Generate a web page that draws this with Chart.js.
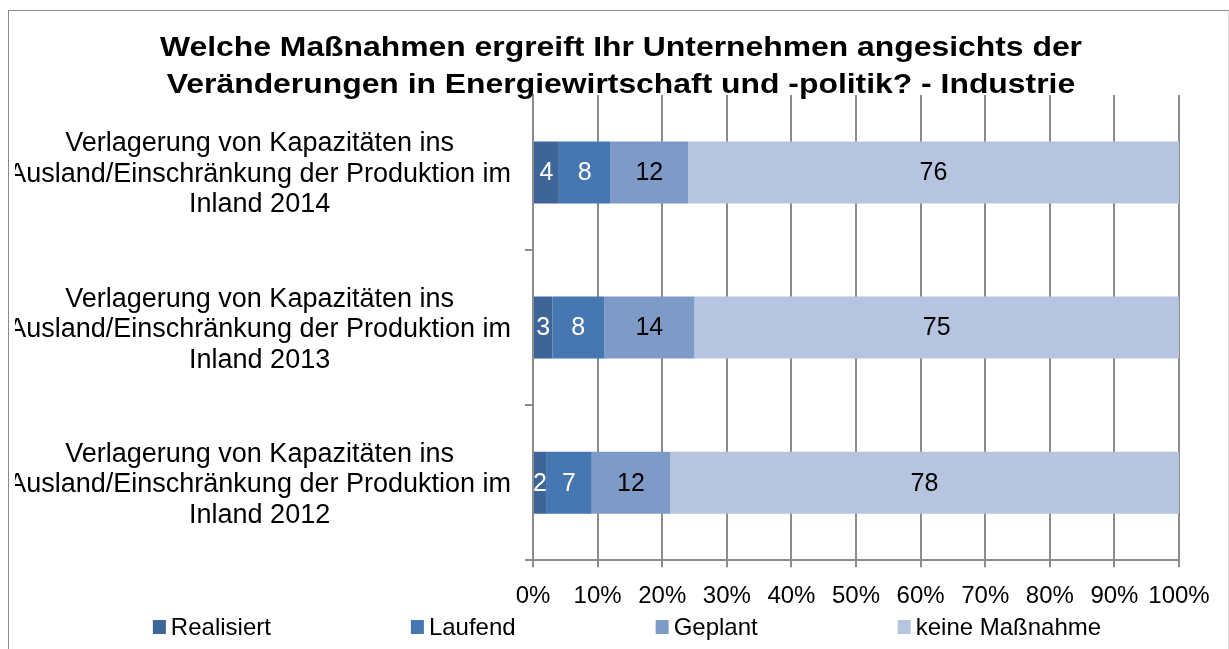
<!DOCTYPE html>
<html>
<head>
<meta charset="utf-8">
<script src="https://cdn.jsdelivr.net/npm/chart.js@4"></script>
<style>
  html, body { margin: 0; padding: 0; background: #fff; }
  #frame { position: absolute; left: 8px; top: 10px; width: 1219px; height: 700px;
           border-top: 1px solid #8a8a8a; border-left: 1px solid #8a8a8a; border-right: 1px solid #d8d8d8; }
  #wrap { position: absolute; left: 0; top: 0; width: 1229px; height: 649px; }
</style>
</head>
<body>
<div id="frame"></div>
<div id="wrap"><canvas id="c" width="1229" height="649"></canvas></div>
<script>
const titleLines = ["Welche Maßnahmen ergreift Ihr Unternehmen angesichts der", "Veränderungen in Energiewirtschaft und -politik? - Industrie"];
const categories = [
  ["Verlagerung von Kapazitäten ins", "Ausland/Einschränkung der Produktion im", "Inland 2014"],
  ["Verlagerung von Kapazitäten ins", "Ausland/Einschränkung der Produktion im", "Inland 2013"],
  ["Verlagerung von Kapazitäten ins", "Ausland/Einschränkung der Produktion im", "Inland 2012"]
];
const seriesNames = ["Realisiert", "Laufend", "Geplant", "keine Maßnahme"];
const realisiert = [4, 3, 2];
const laufend = [8, 8, 7];
const geplant = [12, 14, 12];
const keineMassnahme = [76, 75, 78];
const xTicks = [0, 10, 20, 30, 40, 50, 60, 70, 80, 90, 100];

const seriesValues = [realisiert, laufend, geplant, keineMassnahme];
const colors = ["#3d6598", "#4777b1", "#7e9bc8", "#b6c4df"];
const labelColors = ["#ffffff", "#ffffff", "#000000", "#000000"];
const FONT = "'Liberation Sans', Arial, sans-serif";
const GRID = '#8c8c8c';

// 100% stacked: each category normalised to its total
const totals = categories.map((_, j) => seriesValues.reduce((s, arr) => s + arr[j], 0));
const datasets = seriesNames.map((name, i) => ({
  label: name,
  data: seriesValues[i].map((v, j) => v / totals[j] * 100),
  raw: seriesValues[i],
  backgroundColor: colors[i],
  borderWidth: 0,
  barPercentage: 0.4,
  categoryPercentage: 1.0
}));

const titlePlugin = {
  id: 'wideTitle',
  afterDraw(chart) {
    const ctx = chart.ctx;
    ctx.save();
    ctx.font = "bold 27px " + FONT;
    ctx.fillStyle = '#000';
    ctx.textAlign = 'center';
    ctx.textBaseline = 'alphabetic';
    const sx = 922 / ctx.measureText(titleLines[0]).width;
    const baselines = [56, 93];
    titleLines.forEach((line, k) => {
      ctx.save();
      ctx.translate(621, baselines[k]);
      ctx.scale(sx, 1);
      ctx.fillText(line, 0, 0);
      ctx.restore();
    });
    ctx.restore();
  }
};

const valueLabels = {
  id: 'valueLabels',
  afterDatasetsDraw(chart) {
    const ctx = chart.ctx;
    ctx.save();
    ctx.font = "25px " + FONT;
    ctx.textAlign = 'center';
    ctx.textBaseline = 'middle';
    chart.data.datasets.forEach((ds, i) => {
      const meta = chart.getDatasetMeta(i);
      meta.data.forEach((bar, j) => {
        const cx = (bar.x + bar.base) / 2;
        ctx.fillStyle = labelColors[i];
        ctx.fillText(String(ds.raw[j]), cx, bar.y + 1);
      });
    });
    ctx.restore();
  }
};

const customLegend = {
  id: 'customLegend',
  afterDraw(chart) {
    const ctx = chart.ctx;
    ctx.save();
    ctx.font = "24px " + FONT;
    ctx.textBaseline = 'middle';
    const box = 13, gapText = 5, gapItem = 140;
    const items = chart.data.datasets.map(ds => ({ text: ds.label, color: ds.backgroundColor, w: box + gapText + ctx.measureText(ds.label).width }));
    const total = items.reduce((s, it) => s + it.w, 0) + gapItem * (items.length - 1);
    let x = 627 - total / 2;
    const y = chart.height - 22;
    items.forEach(it => {
      ctx.fillStyle = it.color;
      ctx.fillRect(x, y - 7, box, 14);
      ctx.fillStyle = '#000';
      ctx.textAlign = 'left';
      ctx.fillText(it.text, x + box + gapText, y + 1);
      x += it.w + gapItem;
    });
    ctx.restore();
  }
};

new Chart(document.getElementById('c'), {
  type: 'bar',
  data: { labels: categories, datasets },
  plugins: [valueLabels, customLegend, titlePlugin],
  options: {
    indexAxis: 'y',
    responsive: false,
    animation: false,
    events: [],
    layout: { padding: { left: 15, right: 0, top: 95, bottom: 23 } },
    plugins: {
      legend: { display: false },
      tooltip: { enabled: false },
      title: { display: false }
    },
    scales: {
      x: {
        stacked: true,
        min: 0, max: 100,
        afterBuildTicks(scale) { scale.ticks = xTicks.map(v => ({ value: v })); },
        afterFit(scale) { scale.paddingRight = 50; },
        ticks: {
          color: '#000',
          font: { family: FONT, size: 24 },
          padding: 15,
          maxRotation: 0,
          autoSkip: false,
          callback: v => v + '%'
        },
        grid: { color: GRID, lineWidth: 2, tickLength: 7, drawTicks: true },
        border: { color: GRID, width: 2 }
      },
      y: {
        stacked: true,
        afterFit(scale) { scale.width = 518; scale.paddingTop = 0; scale.paddingBottom = 0; },
        ticks: {
          color: '#000',
          font: { family: FONT, size: 27, lineHeight: 30.5 / 27 },
          padding: 14,
          labelOffset: 2,
          crossAlign: 'center',
          autoSkip: false
        },
        grid: {
          drawOnChartArea: false, drawTicks: true, tickLength: 8, lineWidth: 2, offset: true,
          color: GRID,
          tickColor: c => (c.index === 0 ? 'rgba(0,0,0,0)' : GRID)
        },
        border: { color: GRID, width: 2 }
      }
    }
  }
});
</script>
</body>
</html>
